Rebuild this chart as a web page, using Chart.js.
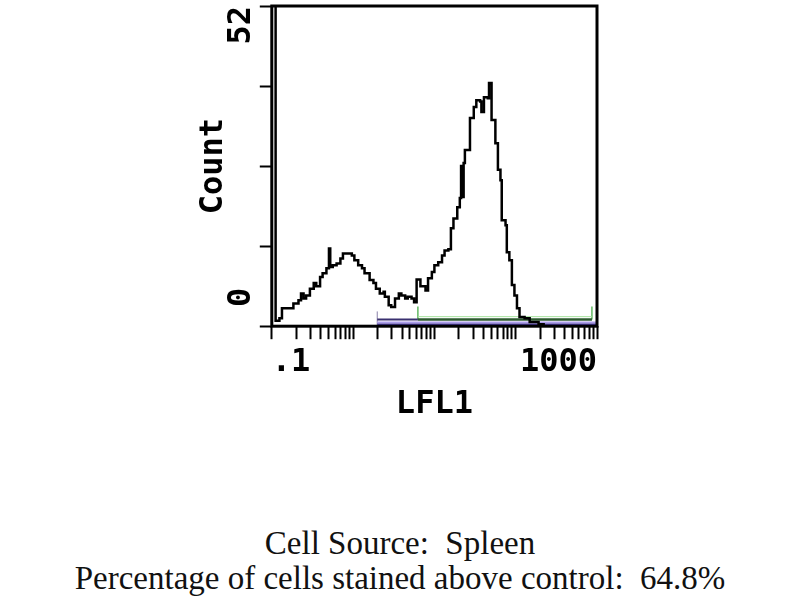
<!DOCTYPE html>
<html>
<head>
<meta charset="utf-8">
<script src="https://cdn.jsdelivr.net/npm/chart.js@4.4.1/dist/chart.umd.min.js"></script>
<style>
  html, body { margin: 0; padding: 0; background: #fff; }
  body { width: 800px; height: 600px; position: relative; overflow: hidden; }
  #wrap { position: absolute; left: 0; top: 0; width: 800px; height: 430px; }
  .caption {
    position: absolute; left: 0; width: 800px; text-align: center;
    font-family: 'Liberation Serif', 'Times New Roman', serif; font-size: 33px; color: #111;
  }
</style>
</head>
<body>
<div id="wrap"><canvas id="chart"></canvas></div>
<div class="caption" style="top: 525px">Cell Source:&nbsp; Spleen</div>
<div class="caption" style="top: 560px">Percentage of cells stained above control:&nbsp; 64.8%</div>
<script>
// Histogram, 256 log channels over 4 decades (.1 .. 1000)
const lfl1Channel = [0, 3, 6, 8, 13, 17, 21, 23, 25, 27, 30, 33, 35, 38, 40, 43, 45, 46, 48, 51,
  54, 56, 60, 63, 65, 68, 71, 73, 77, 80, 82, 85, 88, 89, 92, 94, 97, 100, 102, 105,
  107, 110, 112, 114, 117, 119, 121, 123, 126, 128, 131, 134, 136, 139, 141, 143, 146, 148, 149, 150,
  151, 152, 155, 156, 159, 161, 164, 165, 167, 170, 171, 173, 176, 178, 180, 181, 184, 185, 187, 189,
  191, 193, 195, 199, 203, 210, 214, 256]
const cellCount = [60, 0.9, 1.3, 2.9, 2.9, 3.7, 4.2, 5.3, 4.5, 5.0, 6.1, 7.0, 6.5, 8.0, 8.6, 9.4, 12.6, 9.6, 9.9, 10.2,
  11.0, 11.8, 11.8, 11.5, 10.7, 9.9, 9.4, 8.6, 7.5, 7.0, 6.1, 5.3, 5.6, 4.8, 3.4, 3.1, 4.5, 5.3, 5.0, 4.5,
  4.8, 4.5, 3.9, 7.6, 6.5, 6.5, 5.8, 7.8, 8.8, 9.9, 10.4, 11.5, 12.3, 12.5, 15.9, 17.5, 19.3, 20.8, 26.0, 21.0,
  26.5, 28.6, 28.6, 33.8, 35.6, 36.7, 36.5, 34.8, 37.2, 37.0, 39.5, 33.5, 29.7, 25.4, 23.7, 17.2, 16.4, 12.0, 10.7, 6.7,
  5.0, 2.9, 1.5, 1.3, 0.7, 0.3, 0, 0]

// Gate markers (channels) and the count levels they sit on
const markerTotal = [83, 256]
const markerBright = [115, 252]
const markerLevels = [0.3, 0.62, 1.1, 1.55]
const markerTickTop = 3.2

// Axes
const countTicks = [0, 13, 26, 39, 52]
const countLabels = { 0: '   0', 52: '52  ' }
const decadeLabels = { 0: '.1', 256: '1000' }
const channelsPerDecade = 64
const decades = 4

const axisFont = { family: '"DejaVu Sans Mono", monospace', size: 32, weight: 'bold' }

function hline(range, level) {
  return range.map((ch) => ({ x: ch, y: level }))
}
function vline(ch, from, to) {
  return [{ x: ch, y: from }, { x: ch, y: to }]
}
function markerSet(data, color, width) {
  return { data, borderColor: color, borderWidth: width, pointRadius: 0, fill: false, order: 2 }
}

const logTicks = []
for (let d = 0; d < decades; d++) {
  for (let m = 1; m <= 9; m++) logTicks.push(channelsPerDecade * (d + Math.log10(m)))
}
logTicks.push(channelsPerDecade * decades)

const frame = {
  id: 'frame',
  afterDatasetsDraw(chart) {
    const { ctx, chartArea: { left, top, width, height } } = chart
    ctx.save()
    ctx.strokeStyle = '#000'
    ctx.lineWidth = 3
    ctx.strokeRect(left, top, width, height)
    ctx.restore()
  },
}

new Chart(document.getElementById('chart'), {
  type: 'line',
  data: {
    datasets: [
      {
        data: lfl1Channel.map((ch, i) => ({ x: ch, y: cellCount[i] })),
        borderColor: '#000',
        borderWidth: 2.5,
        stepped: true,
        pointRadius: 0,
        fill: false,
        order: 1,
      },
      markerSet(hline(markerTotal, markerLevels[0]), '#4a3c9c', 1.5),
      markerSet(hline(markerTotal, markerLevels[1]), '#ab9cea', 2),
      markerSet(hline([markerTotal[0], markerBright[0]], markerLevels[2]), '#3a3170', 2),
      markerSet(hline(markerBright, markerLevels[2]), '#2d5a2f', 2.5),
      markerSet(hline(markerBright, markerLevels[3]), '#a6e49e', 1),
      markerSet(vline(markerTotal[0], 0, markerTickTop - 0.8), '#8a80a8', 1),
      markerSet(vline(markerBright[0], markerLevels[2], markerTickTop), '#62b862', 1.5),
      markerSet(vline(markerBright[1], markerLevels[2], markerTickTop), '#62b862', 1.5),
    ],
  },
  options: {
    responsive: true,
    maintainAspectRatio: false,
    animation: false,
    layout: { padding: { left: 194, right: 203, top: 6, bottom: 2 } },
    plugins: { legend: { display: false }, tooltip: { enabled: false } },
    scales: {
      x: {
        type: 'linear',
        min: 0,
        max: channelsPerDecade * decades,
        afterBuildTicks: (scale) => {
          scale.ticks = logTicks.map((value) => ({ value }))
        },
        ticks: {
          autoSkip: false,
          minRotation: 0,
          maxRotation: 0,
          align: 'inner',
          padding: 4,
          color: '#000',
          font: axisFont,
          callback: (val) => decadeLabels[val] || '',
        },
        grid: { drawOnChartArea: false, drawTicks: true, tickLength: 13, tickWidth: 2, tickColor: '#000' },
        border: { display: false },
        title: { display: true, text: 'LFL1', color: '#000', font: axisFont, padding: { top: 0, bottom: 4 } },
      },
      y: {
        type: 'linear',
        min: 0,
        max: 52,
        afterBuildTicks: (scale) => {
          scale.ticks = countTicks.map((value) => ({ value }))
        },
        ticks: {
          autoSkip: false,
          minRotation: 90,
          maxRotation: 90,
          crossAlign: 'center',
          padding: -20.5,
          color: '#000',
          font: axisFont,
          callback: (val) => countLabels[val] || '',
        },
        grid: { drawOnChartArea: false, drawTicks: true, tickLength: 12, tickWidth: 2, tickColor: '#000' },
        border: { display: false },
        title: { display: true, text: 'Count', color: '#000', font: axisFont, padding: { top: 0, bottom: 30 } },
      },
    },
  },
  plugins: [frame],
})
</script>
</body>
</html>
